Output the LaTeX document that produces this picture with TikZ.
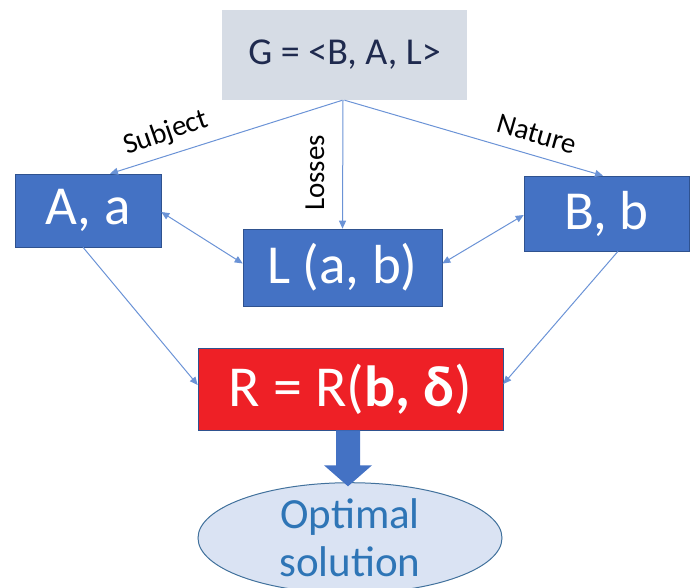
\documentclass[tikz,border=0pt]{standalone}
\usepackage{fontspec}
\setmainfont{Carlito}
\usetikzlibrary{shapes.geometric,arrows.meta,calc}
\definecolor{boxblue}{HTML}{4472C4}
\definecolor{boxedge}{HTML}{2F528F}
\definecolor{gfill}{HTML}{D6DCE5}
\definecolor{gtext}{HTML}{1F2A4E}
\definecolor{linkblue}{HTML}{6B93D6}
\definecolor{rred}{HTML}{EE2026}
\definecolor{efill}{HTML}{DAE3F3}
\definecolor{eedge}{HTML}{41719C}
\definecolor{etext}{HTML}{2E75B6}
\tikzset{
  bluebox/.style={rectangle, fill=boxblue, draw=boxedge, line width=0.6pt, text=white, inner sep=0pt,
    font=\fontsize{55}{58}\selectfont},
  link/.style={draw=linkblue, line width=1pt, -{Triangle[length=8pt,width=7pt]}},
  dlink/.style={draw=linkblue, line width=1pt, {Triangle[length=8pt,width=7pt]}-{Triangle[length=8pt,width=7pt]}},
  lbl/.style={font=\fontsize{29}{31}\selectfont, text=black, inner sep=0pt}
}
\begin{document}
\begin{tikzpicture}[x=1pt,y=-1pt]
\useasboundingbox (0,0) rectangle (691,588);
\node[rectangle, fill=gfill, inner sep=0pt, minimum width=245pt, minimum height=90pt, text=gtext,
  font=\fontsize{38}{40}\selectfont] (G) at (344.5,55) {G = <B, A, L>};
\node[bluebox, minimum width=146pt, minimum height=73pt] (A) at (88,210.5) {A, a};
\node[bluebox, minimum width=199pt, minimum height=77pt] (L) at (342.5,267.5) {L (a, b)};
\node[bluebox, minimum width=165pt, minimum height=75pt] (B) at (606.5,213.5) {B, b};
\node[rectangle, fill=rred, draw=boxedge, line width=0.6pt, text=white, inner sep=0pt,
  minimum width=305pt, minimum height=82pt, font=\fontsize{58}{62}\selectfont] (R) at (350.5,389)
  {R = R(\textbf{b, δ})};
\node[ellipse, fill=efill, draw=eedge, line width=1pt, inner sep=0pt, minimum width=304pt,
  minimum height=102pt, text=etext, align=center, font=\fontsize{43}{48}\selectfont] (O) at (350,538)
  {Optimal\\solution};
% connectors
\draw[link] ([xshift=-2pt]G.south) -- ([xshift=22pt]A.north);
\draw[link] ([xshift=-1.5pt]G.south) -- ([xshift=0pt]L.north);
\draw[link] ([xshift=0pt]G.south) -- ([xshift=-3.5pt]B.north);
\draw[dlink] ([yshift=-1.5pt]A.east) -- ([yshift=4pt]L.west);
\draw[dlink] ([yshift=-1.5pt]B.west) -- ([yshift=4pt]L.east);
\draw[link] ([xshift=-5pt]A.south) -- ([yshift=4pt]R.west);
\draw[link] ([xshift=11.5pt]B.south) -- ([yshift=5pt]R.east);
% labels
\node[lbl, rotate=19] (ls) at (166,133) {Subject};
\node[lbl, rotate=90] (ll) at (315,173) {Losses};
\node[lbl, rotate=-16] (ln) at (537,134) {Nature};
% block arrow
\fill[boxblue] ($(R.south)+(-14.5,0)$) -- ++(24,0) -- ++(0,35) -- ++(12,0)
  -- ($(R.south)+(-2.5,56)$) -- ($(R.south)+(-26.5,35)$) -- ++(12,0) -- cycle;
\end{tikzpicture}
\end{document}
